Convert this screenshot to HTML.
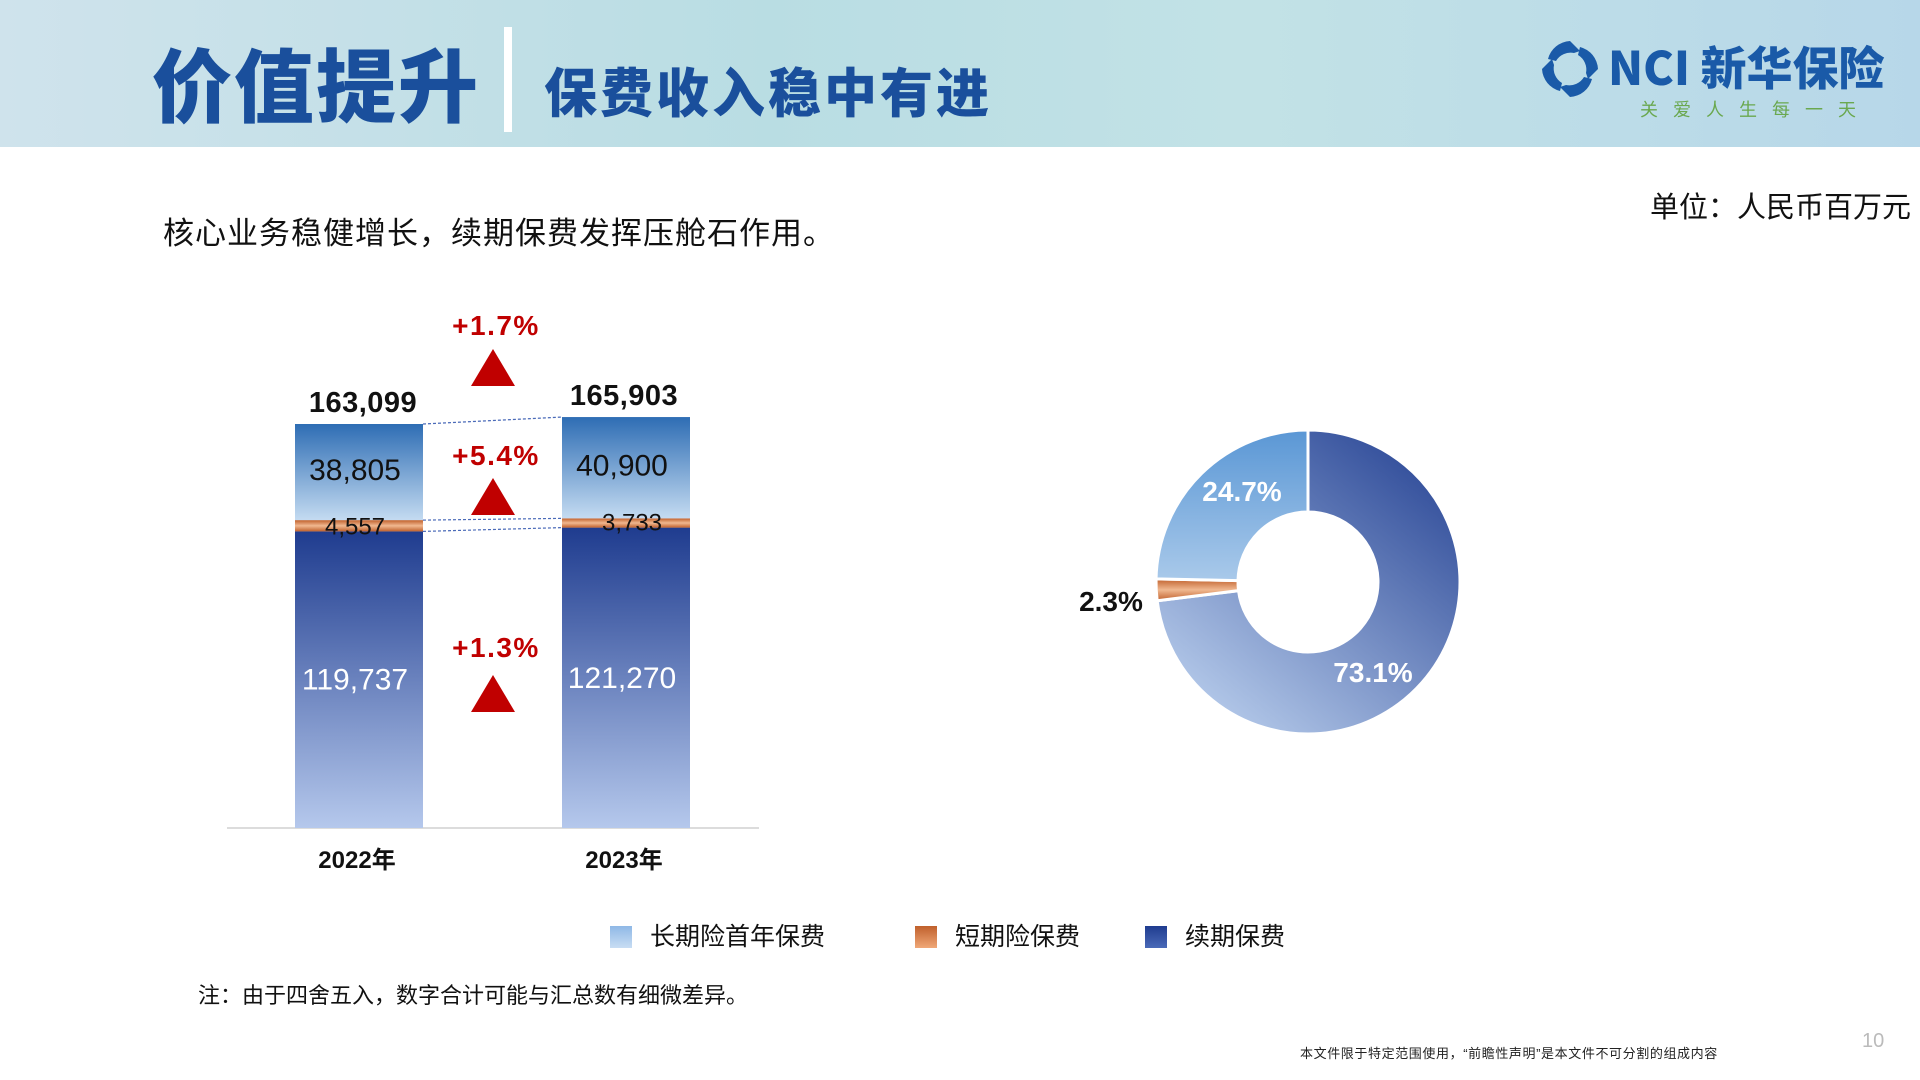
<!DOCTYPE html>
<html><head><meta charset="utf-8">
<style>
html,body{margin:0;padding:0;width:1920px;height:1080px;overflow:hidden;background:#fff;font-family:"Liberation Sans","Noto Sans CJK SC",sans-serif;}
.abs{position:absolute;white-space:nowrap;}
</style></head>
<body>
<div style="position:relative;width:1920px;height:1080px;">
<div class="abs" style="left:0;top:0;width:1920px;height:147px;background:linear-gradient(90deg,#cfe3ec 0%,#b9dde3 40%,#c2e2e6 65%,#b7d7e9 100%);"></div>
<div class="abs" style="left:152px;top:36px;font-size:80px;font-weight:900;color:#1a4f9c;letter-spacing:2px;font-family:'Noto Sans CJK SC',sans-serif;line-height:92px;">价值提升</div>
<div class="abs" style="left:504px;top:27px;width:8px;height:105px;background:#fff;"></div>
<div class="abs" style="left:544px;top:58px;font-size:53px;font-weight:900;color:#1a4f9c;letter-spacing:3px;font-family:'Noto Sans CJK SC',sans-serif;line-height:64px;">保费收入稳中有进</div>
<div class="abs" style="left:1540px;top:34px;width:345px;height:90px;">
<svg width="60" height="60" style="position:absolute;left:0;top:5px"><g fill="#1a5aa8"><path d="M30 2 L40 12 L34 14 A17 17 0 0 0 16 22 L8 20 A24 24 0 0 1 30 2Z"/><path d="M58 30 L48 40 L46 34 A17 17 0 0 0 38 16 L40 8 A24 24 0 0 1 58 30Z"/><path d="M30 58 L20 48 L26 46 A17 17 0 0 0 44 38 L52 40 A24 24 0 0 1 30 58Z"/><path d="M2 30 L12 20 L14 26 A17 17 0 0 0 22 44 L20 52 A24 24 0 0 1 2 30Z"/></g></svg>
<div class="abs" style="left:68px;top:2px;font-size:46px;font-weight:900;color:#1a5aa8;font-family:'Noto Sans CJK SC',sans-serif;line-height:60px;">NCI 新华保险</div>
<div class="abs" style="left:100px;top:62px;font-size:18px;color:#6aa84f;letter-spacing:15px;font-family:'Noto Sans CJK SC',sans-serif;">关爱人生每一天</div>
</div>
<div class="abs" style="left:163px;top:208px;font-size:31px;letter-spacing:1px;color:#111;">核心业务稳健增长，续期保费发挥压舱石作用。</div>
<div class="abs" style="left:1650px;top:184px;font-size:29px;color:#111;">单位：人民币百万元</div>
<svg id="chart" width="1920" height="1080" style="position:absolute;left:0;top:0;">
<defs>
<linearGradient id="gFirst" x1="0" y1="0" x2="0" y2="1"><stop offset="0" stop-color="#2e6db4"/><stop offset="1" stop-color="#c4dbf1"/></linearGradient>
<linearGradient id="gShort" x1="0" y1="0" x2="0" y2="1"><stop offset="0" stop-color="#c0602c"/><stop offset="0.5" stop-color="#f0b890"/><stop offset="1" stop-color="#c0602c"/></linearGradient>
<linearGradient id="gRenew" x1="0" y1="0" x2="0" y2="1"><stop offset="0" stop-color="#1f3c8f"/><stop offset="1" stop-color="#b5c8ec"/></linearGradient>
<linearGradient id="gDonutR" x1="1" y1="0" x2="0.2" y2="1"><stop offset="0" stop-color="#1f3c8f"/><stop offset="1" stop-color="#b8cdec"/></linearGradient>
<linearGradient id="gDonutF" x1="0" y1="0" x2="0" y2="1"><stop offset="0" stop-color="#5a97d5"/><stop offset="1" stop-color="#a9c9ea"/></linearGradient>
</defs>
</svg>
<div class="abs" style="left:610px;top:917px;height:34px;font-size:25px;color:#111;">
<span class="abs" style="left:0;top:0;"><span style="display:inline-block;width:22px;height:22px;background:linear-gradient(#8fb8e6,#c8ddf3);vertical-align:-3px;margin-right:18px"></span>长期险首年保费</span>
<span class="abs" style="left:305px;top:0;"><span style="display:inline-block;width:22px;height:22px;background:linear-gradient(#c0602c,#f0a878);vertical-align:-3px;margin-right:18px"></span>短期险保费</span>
<span class="abs" style="left:535px;top:0;"><span style="display:inline-block;width:22px;height:22px;background:linear-gradient(#1f3c8f,#4a6ab8);vertical-align:-3px;margin-right:18px"></span>续期保费</span>
</div>
<div class="abs" style="left:198px;top:978px;font-size:22px;color:#111;">注：由于四舍五入，数字合计可能与汇总数有细微差异。</div>
<div class="abs" style="left:1300px;top:1043px;font-size:13px;letter-spacing:0.6px;color:#222;">本文件限于特定范围使用，“前瞻性声明”是本文件不可分割的组成内容</div>
<div class="abs" style="left:1862px;top:1030px;font-size:20px;color:#bbb;">10</div>
</div>
<script>
const years = ["2022年","2023年"];
const renewal = [119737,121270];
const shortTerm = [4557,3733];
const firstYear = [38805,40900];
const totals = [163099,165903];
const growth = ["+1.3%","+5.4%","+1.7%"];
const donutLabels = ["73.1%","2.3%","24.7%"];
const donutShares = [73.1,2.3,24.7];

const NS="http://www.w3.org/2000/svg";
const svg=document.getElementById('chart');
function mk(tag,attrs,parent){const e=document.createElementNS(NS,tag);for(const k in attrs)e.setAttribute(k,attrs[k]);(parent||svg).appendChild(e);return e;}
const baseY=828, pxPer=404/163099;
const y=v=>baseY-v*pxPer;
const barX=[295,562], barW=128;
const fmt=v=>v.toLocaleString('en-US');

const axis=mk('line',{x1:227,x2:759,y1:baseY,y2:baseY,stroke:'#d0d0d0','stroke-width':1.5});



const segTops=[[],[]];
for(let i=0;i<2;i++){
  const x=barX[i];
  const r0=y(renewal[i]);
  const s1=y(renewal[i]+shortTerm[i]);
  const t=y(renewal[i]+shortTerm[i]+firstYear[i]);
  segTops[i]=[r0,s1,t];
  const rr=mk('rect',{x:x,y:r0,width:barW,height:baseY-r0,fill:'url(#gRenew)'});
  
  
  const rs=mk('rect',{x:x,y:s1,width:barW,height:r0-s1,fill:'url(#gShort)'});
  
  
  const rf=mk('rect',{x:x,y:t,width:barW,height:s1-t,fill:'url(#gFirst)'});
  
  
  const cx=x+barW/2-4;
  const l1=mk('text',{x:cx,y:(r0+baseY)/2+10,'text-anchor':'middle','font-size':30,fill:'#fff'});l1.textContent=fmt(renewal[i]);
  
  
  const l2=mk('text',{x:cx+(i?10:0),y:r0+3,'text-anchor':'middle','font-size':24,fill:'#111'});l2.textContent=fmt(shortTerm[i]);
  
  
  const l3=mk('text',{x:cx,y:(t+s1)/2+8,'text-anchor':'middle','font-size':30,fill:'#111'});l3.textContent=fmt(firstYear[i]);
  
  
  const l4=mk('text',{x:cx+(i?2:8),y:t-12,'text-anchor':'middle','font-size':29,'font-weight':'bold',fill:'#111','letter-spacing':'0.5'});l4.textContent=fmt(totals[i]);
  
  
  const l5=mk('text',{x:cx+2,y:868,'text-anchor':'middle','font-size':24,'font-weight':'bold',fill:'#111'});l5.textContent=years[i];
  
  
}
for(let k=0;k<3;k++){
  const ln=mk('line',{x1:barX[0]+barW,y1:segTops[0][k],x2:barX[1],y2:segTops[1][k],stroke:'#4a6ab8','stroke-width':1.2,'stroke-dasharray':'3,2'});
  
  
}
const annY=[[657,675],[465,478],[335,349]];
for(let k=0;k<3;k++){
  const t=mk('text',{x:496,y:annY[k][0],'text-anchor':'middle','font-size':28,'font-weight':'bold',fill:'#c00000','letter-spacing':'1.5'});t.textContent=growth[k];
  
  
  const ty=annY[k][1];
  const tri=mk('polygon',{points:`${493},${ty} ${515},${ty+37} ${471},${ty+37}`,fill:'#c00000'});
  
  
}
const dcx=1308,dcy=582,R=152,r=70;
const fills=['url(#gDonutR)','url(#gShort)','url(#gDonutF)'];
const names=['donut-renewal','donut-short-term','donut-first-year'];
const labelPos=[[1373,682],[1111,611],[1242,501]];
const labelCol=['#fff','#111','#fff'];
let a=0;const tot=donutShares.reduce((s,v)=>s+v,0);
function pt(rad,ang){return [dcx+rad*Math.sin(ang),dcy-rad*Math.cos(ang)];}
for(let i=0;i<3;i++){
  const a0=a,a1=a+donutShares[i]/tot*2*Math.PI;a=a1;
  const [x0,y0]=pt(R,a0),[x1,y1]=pt(R,a1),[x2,y2]=pt(r,a1),[x3,y3]=pt(r,a0);
  const lg=(a1-a0)>Math.PI?1:0;
  const p=mk('path',{d:`M${x0},${y0} A${R},${R} 0 ${lg} 1 ${x1},${y1} L${x2},${y2} A${r},${r} 0 ${lg} 0 ${x3},${y3}Z`,fill:fills[i],stroke:'#fff','stroke-width':3});
  
  
  const t=mk('text',{x:labelPos[i][0],y:labelPos[i][1],'text-anchor':'middle','font-size':28,'font-weight':'bold',fill:labelCol[i]});t.textContent=donutLabels[i];
  
  
}
</script>
</body></html>
